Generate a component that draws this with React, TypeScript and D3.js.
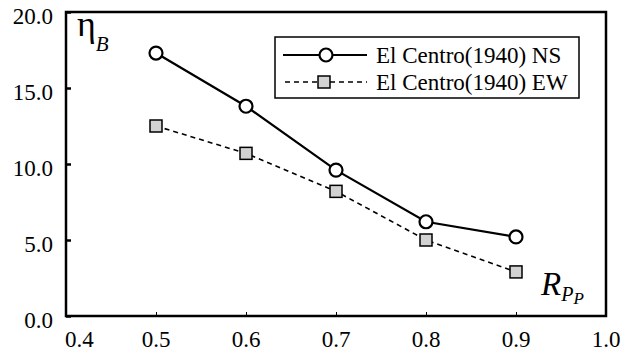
import React, { useEffect, useRef } from 'react'
import * as d3 from 'd3'

const rpp = [0.5, 0.6, 0.7, 0.8, 0.9]
const nsValues = [17.3, 13.8, 9.6, 6.2, 5.2]
const ewValues = [12.5, 10.7, 8.2, 5.0, 2.9]
const xTicks = [0.4, 0.5, 0.6, 0.7, 0.8, 0.9, 1.0]
const yTicks = [0, 5, 10, 15, 20]
const seriesNames = ['El Centro(1940) NS', 'El Centro(1940) EW']

const WIDTH = 632
const HEIGHT = 353
const FONT = 'Liberation Serif'

const App = () => {
    const ref = useRef<SVGSVGElement>(null)

    useEffect(() => {
        const svg = d3.select(ref.current)
        svg.selectAll('*').remove()

        const left = 66, right = 606, top = 12, bottom = 316
        const x = d3.scaleLinear().domain([0.4, 1.0]).range([left, right])
        const y = d3.scaleLinear().domain([0, 20]).range([bottom, top])

        // frame
        svg.append('rect')
            .attr('x', left).attr('y', top)
            .attr('width', right - left).attr('height', bottom - top)
            .attr('fill', 'none').attr('stroke', '#000').attr('stroke-width', 2.5)

        // y axis, inward ticks
        const yAxis = svg.append('g')
            .attr('transform', `translate(${left},0)`)
            .call(d3.axisRight(y).tickValues(yTicks).tickSize(5).tickFormat(() => ''))
        yAxis.select('.domain').remove()
        yAxis.selectAll('line').attr('stroke-width', 2.5)

        svg.append('g').selectAll('text')
            .data(yTicks)
            .enter()
            .append('text')
            .attr('x', 53)
            .attr('y', d => y(d) + 4)
            .attr('dy', '0.35em')
            .attr('text-anchor', 'end')
            .style('font-family', FONT)
            .style('font-size', '23px')
            .text(d => d3.format('.1f')(d))

        // x axis, inward ticks
        const xAxis = svg.append('g')
            .attr('transform', `translate(0,${bottom})`)
            .call(d3.axisTop(x).tickValues(xTicks).tickSize(4).tickFormat(() => ''))
        xAxis.select('.domain').remove()
        xAxis.selectAll('line').attr('stroke-width', 1)

        svg.append('g').selectAll('text')
            .data(xTicks)
            .enter()
            .append('text')
            .attr('x', (d, i) => i === 0 ? x(d) - 1 : x(d))
            .attr('y', 347)
            .attr('text-anchor', (d, i) => i === 0 ? 'start' : 'middle')
            .style('font-family', FONT)
            .style('font-size', '23px')
            .text(d => d3.format('.1f')(d))

        // series
        const line = d3.line<number>()
            .x((d, i) => x(rpp[i]))
            .y(d => y(d))

        svg.append('path')
            .datum(ewValues)
            .attr('d', line)
            .attr('fill', 'none')
            .attr('stroke', '#000')
            .attr('stroke-width', 1.6)
            .attr('stroke-dasharray', '5,4')

        svg.append('path')
            .datum(nsValues)
            .attr('d', line)
            .attr('fill', 'none')
            .attr('stroke', '#000')
            .attr('stroke-width', 2.2)

        const drawSquare = (g, cx, cy) => {
            g.append('rect')
                .attr('x', cx - 6).attr('y', cy - 6)
                .attr('width', 12).attr('height', 12)
                .attr('fill', '#d2d2d2')
                .attr('stroke', '#000')
                .attr('stroke-width', 1.5)
        }
        const drawCircle = (g, cx, cy) => {
            g.append('circle')
                .attr('cx', cx).attr('cy', cy).attr('r', 6.5)
                .attr('fill', '#fff')
                .attr('stroke', '#000')
                .attr('stroke-width', 2.2)
        }

        const marks = svg.append('g')
        ewValues.forEach((v, i) => drawSquare(marks, x(rpp[i]), y(v)))
        nsValues.forEach((v, i) => drawCircle(marks, x(rpp[i]), y(v)))

        // legend
        const lg = svg.append('g')
        lg.append('rect')
            .attr('x', 275).attr('y', 37)
            .attr('width', 304).attr('height', 61)
            .attr('fill', '#fff')
            .attr('stroke', '#000')
            .attr('stroke-width', 1.5)
        const rows = [55, 82]
        lg.append('line')
            .attr('x1', 283).attr('x2', 367)
            .attr('y1', rows[0]).attr('y2', rows[0])
            .attr('stroke', '#000').attr('stroke-width', 2.2)
        drawCircle(lg, 326, rows[0])
        lg.append('line')
            .attr('x1', 285).attr('x2', 367)
            .attr('y1', rows[1]).attr('y2', rows[1])
            .attr('stroke', '#000').attr('stroke-width', 1.6)
            .attr('stroke-dasharray', '5,4')
        drawSquare(lg, 324, rows[1])
        seriesNames.forEach((name, i) => {
            lg.append('text')
                .attr('x', 376)
                .attr('y', rows[i])
                .attr('dy', '0.35em')
                .style('font-family', FONT)
                .style('font-size', '23px')
                .text(name)
        })

        // axis titles
        const yTitle = svg.append('text')
            .attr('x', 77).attr('y', 36)
            .style('font-family', FONT)
        yTitle.append('tspan').style('font-size', '36px').text('η')
        yTitle.append('tspan')
            .style('font-size', '21px').style('font-style', 'italic')
            .attr('dy', 15).text('B')

        const xTitle = svg.append('text')
            .attr('x', 541).attr('y', 295)
            .style('font-family', FONT)
            .style('font-style', 'italic')
        xTitle.append('tspan').style('font-size', '33px').text('R')
        xTitle.append('tspan').style('font-size', '20px').attr('dy', 6).text('P')
        xTitle.append('tspan').style('font-size', '17px').attr('dy', 3).text('P')
    }, [])

    return (
        <svg
            ref={ref}
            width={WIDTH}
            height={HEIGHT}
            style={{ position: 'absolute', left: 0, top: 0, background: '#fff' }}
        ></svg>
    )
}

export default App
